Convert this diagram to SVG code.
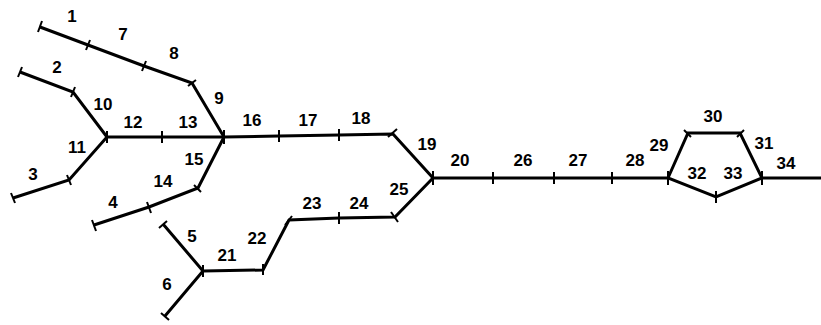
<svg xmlns="http://www.w3.org/2000/svg" width="821" height="325" viewBox="0 0 821 325">
<style>
.ln{fill:none;stroke:#000;stroke-width:3;stroke-linejoin:miter;stroke-linecap:butt}
.tk{stroke:#000;stroke-width:2;fill:none}
text{font-family:"Liberation Sans",Arial,sans-serif;font-size:17px;font-weight:bold;fill:#000;text-anchor:middle}
</style>
<rect width="821" height="325" fill="#fff"/>
<g id="connectors">
<polyline class="ln" points="40,27 88,45 144,66 192,83 224,137"/>
<polyline class="ln" points="20,72 73,92 107,137 69,180 13,198"/>
<polyline class="ln" points="107,137 162,137 224,137 279,136 339,135 393,134 433,178 395,217 339,218 289,220 263,270 203,271"/>
<polyline class="ln" points="94,225 149,207 198,188 224,137"/>
<polyline class="ln" points="163,224 203,271 165,316"/>
<polyline class="ln" points="433,178 493,178 554,178 612,178 668,178"/>
<polygon class="ln" points="668,178 688,133 740,133 762,178 716,197"/>
<line class="ln" x1="762" y1="178" x2="821" y2="178"/>
<g id="ticks">
<line class="tk" x1="38" y1="32" x2="42" y2="21"/>
<line class="tk" x1="86" y1="50" x2="90" y2="40"/>
<line class="tk" x1="142" y1="71" x2="146" y2="61"/>
<line class="tk" x1="188" y1="86" x2="196" y2="80"/>
<line class="tk" x1="18" y1="77" x2="22" y2="67"/>
<line class="tk" x1="71" y1="97" x2="75" y2="87"/>
<line class="tk" x1="11" y1="193" x2="15" y2="203"/>
<line class="tk" x1="67" y1="175" x2="71" y2="185"/>
<line class="tk" x1="107" y1="131" x2="107" y2="143"/>
<line class="tk" x1="162" y1="131" x2="162" y2="143"/>
<line class="tk" x1="224" y1="130" x2="224" y2="144"/>
<line class="tk" x1="279" y1="130" x2="279" y2="142"/>
<line class="tk" x1="339" y1="129" x2="339" y2="141"/>
<line class="tk" x1="388" y1="137" x2="397" y2="129"/>
<line class="tk" x1="433" y1="171" x2="433" y2="185"/>
<line class="tk" x1="391" y1="212" x2="398" y2="222"/>
<line class="tk" x1="339" y1="212" x2="339" y2="224"/>
<line class="tk" x1="285" y1="225" x2="292" y2="216"/>
<line class="tk" x1="92" y1="220" x2="96" y2="231"/>
<line class="tk" x1="147" y1="202" x2="151" y2="213"/>
<line class="tk" x1="194" y1="185" x2="201" y2="192"/>
<line class="tk" x1="263" y1="264" x2="263" y2="275"/>
<line class="tk" x1="203" y1="265" x2="203" y2="277"/>
<line class="tk" x1="167" y1="221" x2="159" y2="228"/>
<line class="tk" x1="169" y1="320" x2="161" y2="313"/>
<line class="tk" x1="493" y1="172" x2="493" y2="184"/>
<line class="tk" x1="554" y1="172" x2="554" y2="184"/>
<line class="tk" x1="612" y1="172" x2="612" y2="184"/>
<line class="tk" x1="668" y1="171" x2="668" y2="185"/>
<line class="tk" x1="684" y1="130" x2="691" y2="137"/>
<line class="tk" x1="744" y1="130" x2="737" y2="137"/>
<line class="tk" x1="716" y1="191" x2="716" y2="203"/>
<line class="tk" x1="762" y1="171" x2="762" y2="185"/>
</g>
</g>
<g id="labels">
<text x="72" y="22">1</text>
<text x="123" y="40">7</text>
<text x="174" y="59">8</text>
<text x="57" y="73">2</text>
<text x="103" y="110">10</text>
<text x="219" y="104">9</text>
<text x="133" y="128">12</text>
<text x="188" y="128">13</text>
<text x="77" y="153">11</text>
<text x="33" y="180">3</text>
<text x="194" y="165">15</text>
<text x="163" y="187">14</text>
<text x="113" y="208">4</text>
<text x="252" y="126">16</text>
<text x="308" y="126">17</text>
<text x="361" y="124">18</text>
<text x="427" y="150">19</text>
<text x="399" y="195">25</text>
<text x="312" y="209">23</text>
<text x="359" y="209">24</text>
<text x="257" y="244">22</text>
<text x="227" y="261">21</text>
<text x="192" y="242">5</text>
<text x="167" y="290">6</text>
<text x="460" y="166">20</text>
<text x="523" y="166">26</text>
<text x="578" y="166">27</text>
<text x="635" y="166">28</text>
<text x="659" y="151">29</text>
<text x="713" y="122">30</text>
<text x="764" y="149">31</text>
<text x="697" y="179">32</text>
<text x="733" y="179">33</text>
<text x="786" y="169">34</text>
</g>
</svg>
